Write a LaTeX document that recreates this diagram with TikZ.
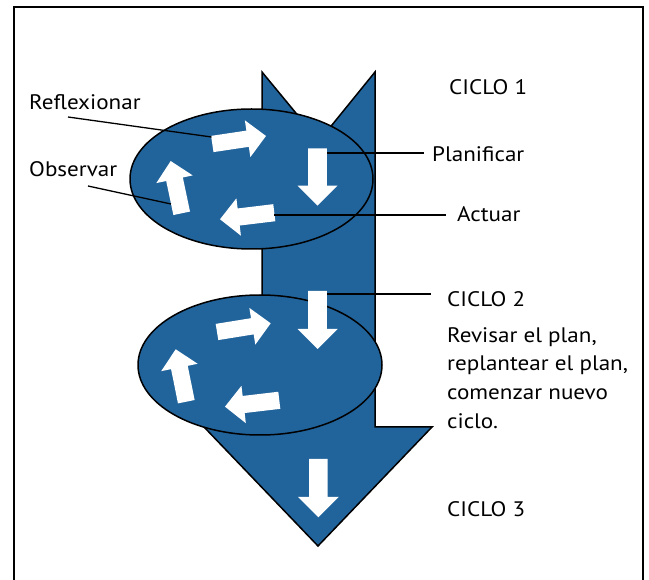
\documentclass[tikz,border=0pt]{standalone}
\usepackage{fontspec}
\setmainfont{PT Sans}[FakeStretch=1.1]
\usetikzlibrary{calc}
\definecolor{cycleblue}{RGB}{33,100,155}
\tikzset{
  frameline/.style={line width=2pt, draw=black},
  bigarrow/.style={fill=cycleblue, draw=black, line width=1.5pt, line join=miter},
  cycleellipse/.style={fill=cycleblue, draw=black, line width=1.5pt},
  whitearrow/.style={fill=white},
  leader/.style={draw=black, line width=1.3pt},
  lbl/.style={inner sep=0pt, font=\fontsize{21}{28.7}\selectfont, anchor=base west},
}
% #1 tail point, #2 angle, #3 length, #4 shaft half width, #5 head half width/length
\newcommand{\whitearr}[5]{%
  \begin{scope}[shift={#1}, rotate=#2]
    \fill[whitearrow] (0,-#4) -- ({#3-#5},-#4) -- ({#3-#5},-#5) -- (#3,0)
      -- ({#3-#5},#5) -- ({#3-#5},#4) -- (0,#4) -- cycle;
  \end{scope}}
\begin{document}
\begin{tikzpicture}[x=1pt,y=-1pt]
\useasboundingbox (0,0) rectangle (649,580);
% frame
\draw[frameline] (14,585) -- (14,7.5) -- (643.3,7.5) -- (643.3,585);
% big arrow
\draw[bigarrow] (262,72) -- (319,141) -- (375,72) -- (375,427) -- (432,427)
  -- (318,546) -- (204,427) -- (262,427) -- cycle;
% ellipse 1
\draw[cycleellipse] (251.5,179) ellipse [x radius=121.5, y radius=70];
\whitearr{(212.3,144)}{8.5}{54.3}{8.2}{18.6}
\whitearr{(317.5,148.3)}{-90}{57.4}{9.3}{20}
\whitearr{(274.3,212.7)}{-173.1}{54.7}{8.6}{18.8}
\whitearr{(181.7,213.3)}{101.9}{53.4}{8.5}{18.6}
% ellipse 2
\draw[cycleellipse] (260,365) ellipse [x radius=122, y radius=70];
\whitearr{(217,332)}{9.2}{54.4}{8.2}{18.6}
\whitearr{(317.5,291)}{-90}{58}{9.3}{20}
\whitearr{(279.3,400.3)}{-173.3}{54.7}{8.6}{18.8}
\whitearr{(186.3,401.7)}{101.4}{53.5}{8.5}{18.6}
% arrow in head
\whitearr{(318.3,459)}{-90}{58.3}{9.3}{20.5}
% labels
\node[lbl] (ciclo1) at (449,95) {CICLO 1};
\node[lbl] (refl) at (29,110) {Reflexionar};
\node[lbl] (obs) at (29,176.7) {Observar};
\node[lbl] (plan) at (432,162) {Planificar};
\node[lbl] (act) at (457,222) {Actuar};
\node[lbl] (ciclo2) at (447,307) {CICLO 2};
\node[lbl, align=left] (revisar) at (447,428.3) {Revisar el plan,\\replantear el plan,\\comenzar nuevo\\ciclo.};
\node[lbl] (ciclo3) at (447,516.7) {CICLO 3};
% leader coordinates
\coordinate (reflA) at (68,117);
\coordinate (reflB) at (211.5,137);
\coordinate (obsA) at (88,186);
\coordinate (obsB) at (171,204);
\coordinate (planA) at (327,153);
\coordinate (planB) at (424,153);
\coordinate (actA) at (274,215);
\coordinate (actB) at (446,215);
\coordinate (c2A) at (327,294);
\coordinate (c2B) at (431,294);
\draw[leader] (reflA) -- (reflB);
\draw[leader] (obsA) -- (obsB);
\draw[leader] (planA) -- (planB);
\draw[leader] (actA) -- (actB);
\draw[leader] (c2A) -- (c2B);
\end{tikzpicture}
\end{document}
